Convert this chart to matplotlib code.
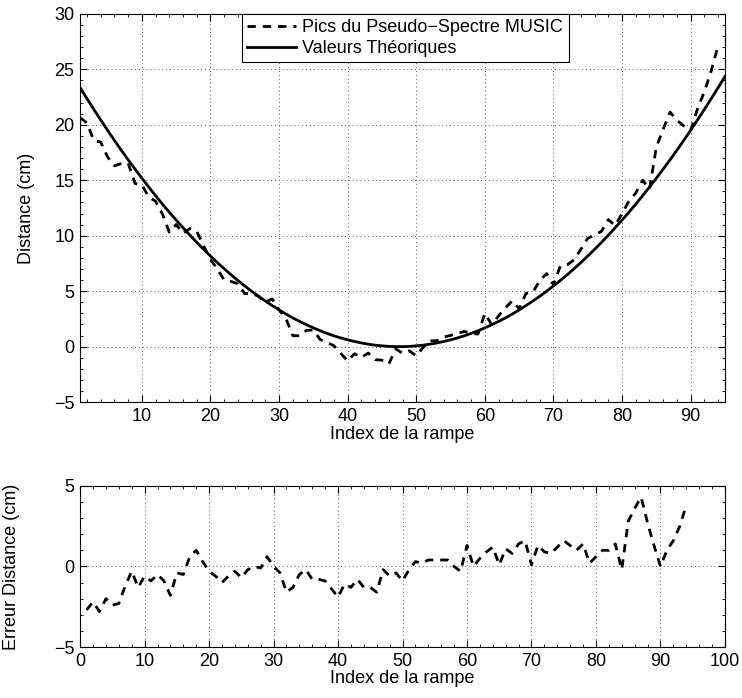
import matplotlib
matplotlib.use("Agg")
import matplotlib.pyplot as plt
import numpy as np
from matplotlib.ticker import AutoMinorLocator

# ───────────────────────────── data ───────────────────────────── #
# theoretical distance (cm) for ramp index 1..95
index_theo = list(range(1, 96))
theo_cm = [
    23.35, 22.36, 21.39, 20.44, 19.51, 18.60, 17.71, 16.85, 16.01, 15.19,
    14.39, 13.61, 12.85, 12.12, 11.41, 10.72, 10.05, 9.40, 8.77, 8.17,
    7.58, 7.02, 6.48, 5.96, 5.47, 4.99, 4.54, 4.11, 3.70, 3.31,
    2.94, 2.59, 2.27, 1.97, 1.69, 1.43, 1.19, 0.97, 0.78, 0.61,
    0.46, 0.33, 0.22, 0.13, 0.07, 0.02, 0.00, 0.00, 0.02, 0.07,
    0.13, 0.22, 0.33, 0.46, 0.61, 0.78, 0.97, 1.19, 1.43, 1.69,
    1.97, 2.27, 2.59, 2.94, 3.31, 3.70, 4.11, 4.54, 4.99, 5.47,
    5.96, 6.48, 7.02, 7.58, 8.17, 8.77, 9.40, 10.05, 10.72, 11.41,
    12.12, 12.85, 13.61, 14.39, 15.19, 16.01, 16.85, 17.71, 18.60, 19.51,
    20.44, 21.39, 22.36, 23.35, 24.36,
]

# error of the MUSIC peaks vs theory (cm), ramp index 1..94
index_meas = list(range(1, 95))
err_cm = [
    -2.7, -2.2, -2.8, -2.0, -2.4, -2.3, -1.2, -0.3, -1.3, -0.6,
    -0.9, -0.5, -0.9, -1.8, -0.4, -0.5, 0.6, 1.0, 0.3, -0.3,
    -0.6, -1.0, -0.6, -0.3, -0.7, -0.2, 0.0, -0.1, 0.6, 0.0,
    -0.4, -1.6, -1.3, -0.5, -0.2, -0.8, -0.8, -0.9, -1.4, -1.9,
    -1.1, -1.3, -0.8, -1.3, -1.3, -1.6, -0.2, -0.6, -0.4, -0.9,
    -0.2, 0.3, 0.2, 0.4, 0.4, 0.4, 0.4, 0.0, -0.3, 1.3,
    0.0, 0.5, 0.9, 1.2, 0.1, 1.1, 0.8, 1.4, 1.6, 0.1,
    1.3, 0.9, 0.8, 1.2, 1.6, 1.3, 1.0, 1.4, 0.2, 0.6,
    1.0, 1.0, 1.4, -0.2, 2.8, 3.6, 4.3, 2.7, 1.3, 0.0,
    1.0, 1.6, 2.5, 3.8,
]

# measured peaks = theory + error
music_cm = np.array(theo_cm[:len(err_cm)]) + np.array(err_cm)

# ───────────────────────────── style ───────────────────────────── #
plt.rcParams["font.family"] = ["Liberation Sans", "DejaVu Sans"]
plt.rcParams["font.size"] = 13


def _matlab_axes(ax):
    ax.grid(True, linestyle=(0, (1, 3)), color="0.35", linewidth=0.7)
    ax.xaxis.set_minor_locator(AutoMinorLocator(5))
    ax.yaxis.set_minor_locator(AutoMinorLocator(5))
    ax.tick_params(which="both", direction="in", top=True, right=True)
    ax.tick_params(which="major", length=5, width=0.8, pad=4)
    ax.tick_params(which="minor", length=2.5, width=0.6)
    for s in ax.spines.values():
        s.set_linewidth(0.8)


fig = plt.figure(figsize=(7.42, 6.98), dpi=100)

# ───────────────────────────── top panel ───────────────────────────── #
ax1 = fig.add_axes([0.108, 0.424, 0.869, 0.556])
ax1.plot(index_meas, music_cm, color="black", linestyle=(0, (3, 2.5)),
         linewidth=2.0, label="Pics du Pseudo\u2212Spectre MUSIC")
ax1.plot(index_theo, theo_cm, color="black", linestyle="-",
         linewidth=2.0, label="Valeurs Théoriques")
ax1.set_xlim(1, 95)
ax1.set_ylim(-5, 30)
ax1.set_xticks([10, 20, 30, 40, 50, 60, 70, 80, 90])
ax1.set_yticks([-5, 0, 5, 10, 15, 20, 25, 30])
ax1.set_xlabel("Index de la rampe", labelpad=1)
ax1.set_ylabel("Distance (cm)")
ax1.yaxis.set_label_coords(-0.07, 0.5)
_matlab_axes(ax1)
leg = ax1.legend(loc="upper left", bbox_to_anchor=(0.251, 1.0),
                 borderaxespad=0, fancybox=False, framealpha=1,
                 edgecolor="black", handlelength=2.7, handletextpad=0.35,
                 borderpad=0.3, labelspacing=0.2, fontsize=13)
leg.get_frame().set_linewidth(0.8)

# ───────────────────────────── bottom panel ───────────────────────────── #
ax2 = fig.add_axes([0.108, 0.073, 0.869, 0.231])
ax2.plot(index_meas, err_cm, color="black", linestyle=(0, (3, 2.5)),
         linewidth=2.0)
ax2.set_xlim(0, 100)
ax2.set_ylim(-5, 5)
ax2.set_xticks(range(0, 101, 10))
ax2.set_yticks([-5, 0, 5])
ax2.set_xlabel("Index de la rampe", labelpad=0)
ax2.set_ylabel("Erreur Distance (cm)")
ax2.yaxis.set_label_coords(-0.093, 0.5)
_matlab_axes(ax2)

fig.savefig("out.png", dpi=100)
